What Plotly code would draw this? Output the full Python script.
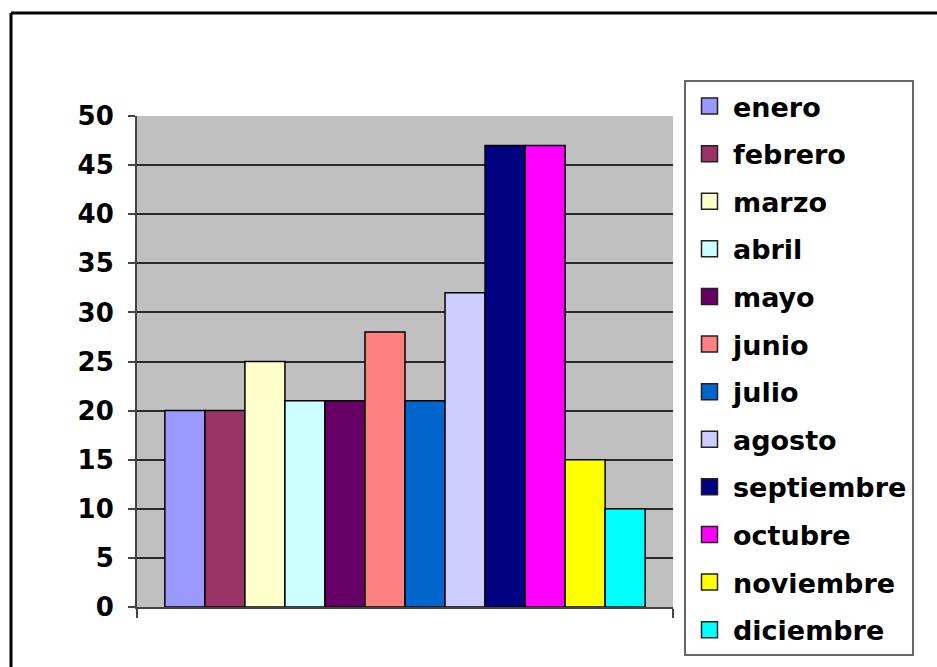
import plotly.graph_objects as go

months = ["enero", "febrero", "marzo", "abril", "mayo", "junio", "julio",
          "agosto", "septiembre", "octubre", "noviembre", "diciembre"]
values = [20, 20, 25, 21, 21, 28, 21, 32, 47, 47, 15, 10]
colors = ["#9999FF", "#993366", "#FFFFCC", "#CCFFFF", "#660066", "#FF8080",
          "#0066CC", "#CCCCFF", "#000080", "#FF00FF", "#FFFF00", "#00FFFF"]
category = [""]
y_ticks = list(range(0, 55, 5))
y_max = 50

W, H = 937, 667
L, R, T, B = 137, 673, 116, 607  # plot area in pixels


def px_x(p):
    return (p - L) / (R - L)


def px_y(p):
    return (B - p) / (B - T)


FONT = "DejaVu Sans"
PLOT_BG = "#C0C0C0"

fig = go.Figure()
for m, v, c in zip(months, values, colors):
    fig.add_trace(go.Bar(
        x=category, y=[v], name=m, legendgroup=m, showlegend=False,
        marker=dict(color=c, line=dict(color="black", width=1.5)),
    ))
    # legend entry with a larger square swatch (no visible data)
    fig.add_trace(go.Scatter(
        x=[None], y=[None], mode="markers", name=m, legendgroup=m,
        marker=dict(symbol="square", size=16, color=c,
                    line=dict(color="#222222", width=1.5)),
        hoverinfo="skip",
    ))

fig.update_layout(
    width=W, height=H,
    margin=dict(l=L, r=W - R, t=T, b=H - B, autoexpand=False),
    paper_bgcolor="white",
    plot_bgcolor=PLOT_BG,
    barmode="group",
    bargap=0.104,
    bargroupgap=0,
    font=dict(family=FONT, size=26, color="black", weight="bold"),
    showlegend=True,
    legend=dict(
        x=px_x(684), y=px_y(80), xanchor="left", yanchor="top",
        bgcolor="white", bordercolor="#666666", borderwidth=2,
        tracegroupgap=9.5, traceorder="grouped", maxheight=640,
        itemwidth=37, itemsizing="trace",
        font=dict(family=FONT, size=27, color="black", weight="bold"),
    ),
    xaxis=dict(
        showline=True, linecolor="#444444", linewidth=2,
        ticks="outside", tickson="boundaries", ticklen=9, tickcolor="#444444",
        tickwidth=2, showticklabels=False, showgrid=False, zeroline=False,
    ),
    yaxis=dict(
        range=[0, y_max], tickvals=y_ticks, ticktext=[str(t) for t in y_ticks],
        showline=True, linecolor="#444444", linewidth=2,
        ticks="outside", ticklen=7, tickcolor="#444444", tickwidth=2,
        showgrid=True, gridcolor="#2a2a2a", gridwidth=2, zeroline=False,
        ticklabelstandoff=9,
        tickfont=dict(family=FONT, size=26, color="black", weight="bold"),
    ),
    shapes=[
        # hide the gridline on the top edge of the plot area
        dict(type="line", xref="paper", yref="y",
             x0=0, y0=y_max, x1=1, y1=y_max,
             line=dict(color=PLOT_BG, width=3), layer="between"),
        # outer chart frame (top and left edges visible)
        dict(type="line", xref="paper", yref="paper",
             x0=px_x(11), y0=px_y(13), x1=px_x(945), y1=px_y(13),
             line=dict(color="black", width=3), layer="above"),
        dict(type="line", xref="paper", yref="paper",
             x0=px_x(11), y0=px_y(13), x1=px_x(11), y1=px_y(680),
             line=dict(color="black", width=3), layer="above"),
    ],
)

fig.write_html("out.html")
